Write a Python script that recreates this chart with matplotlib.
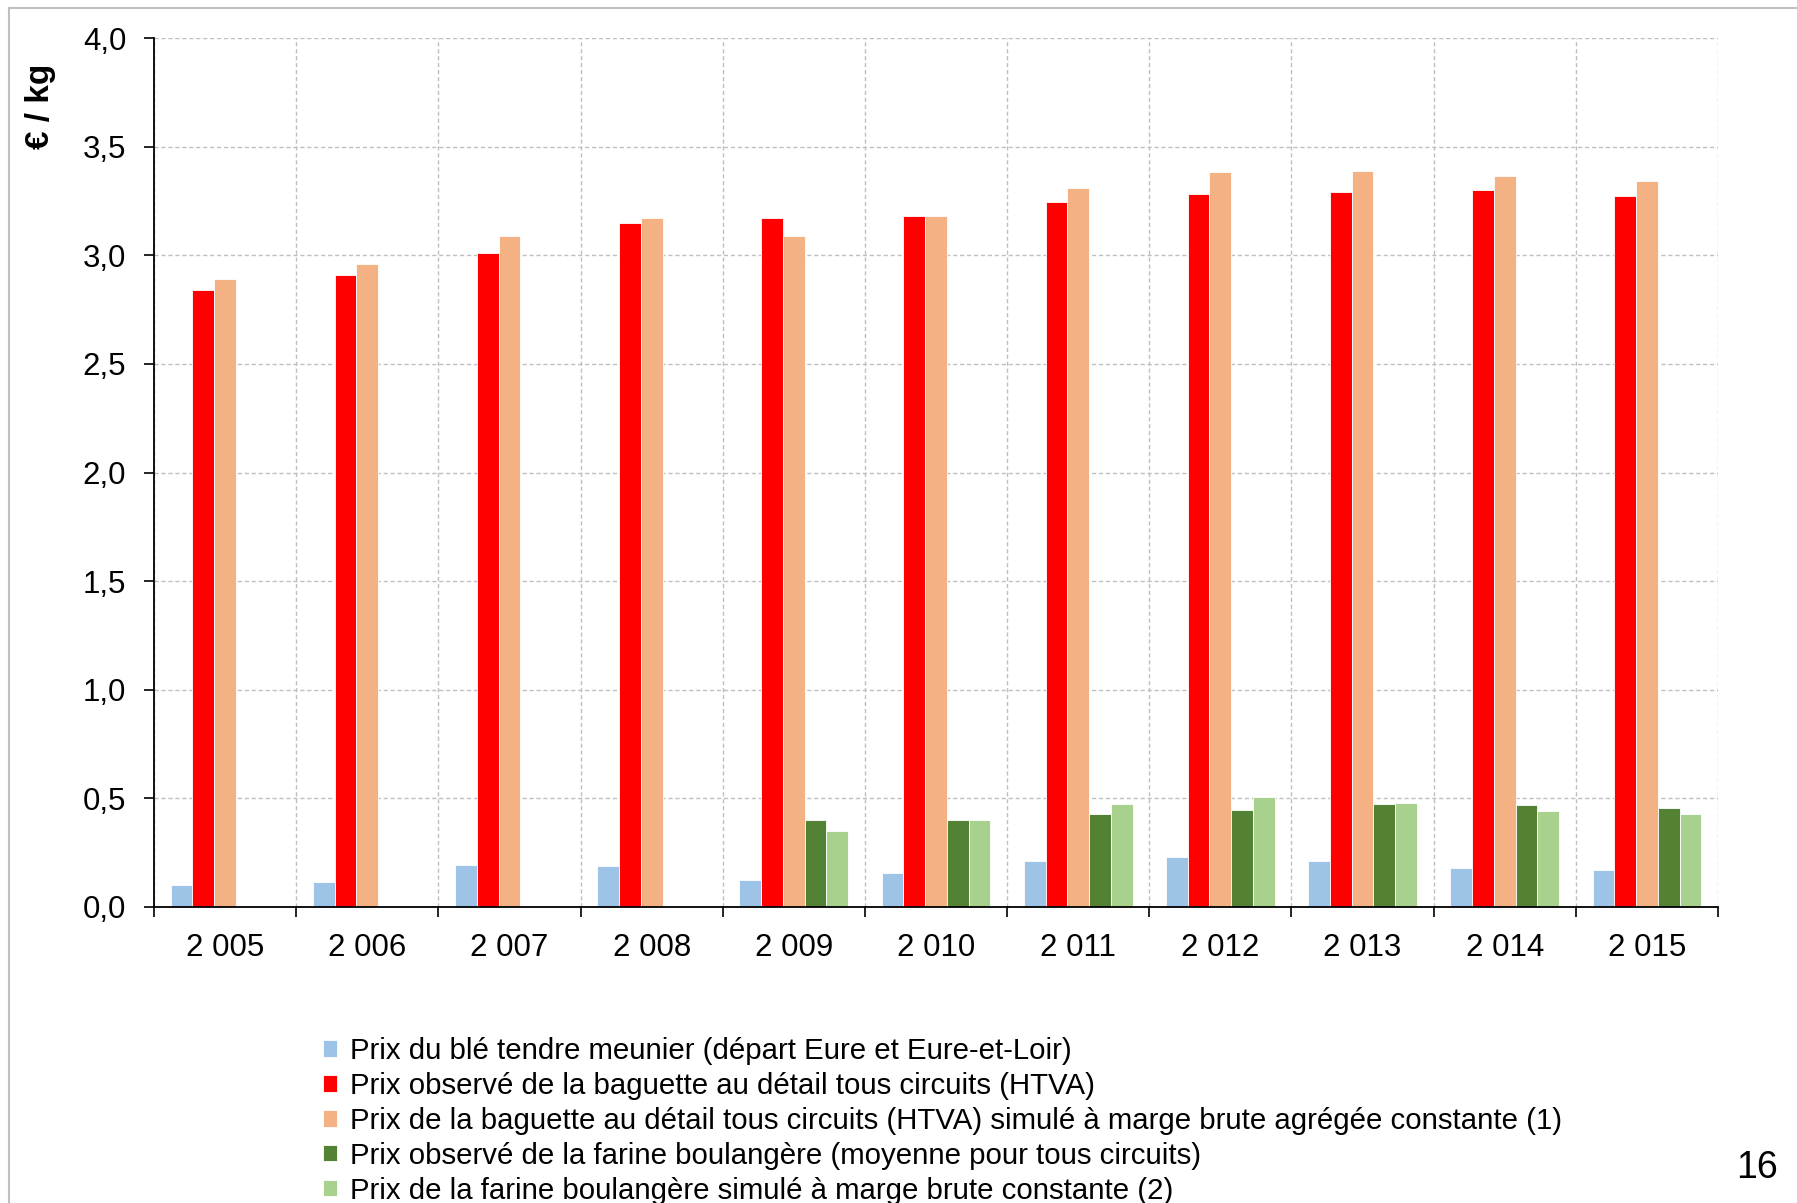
import matplotlib
matplotlib.use("Agg")
import matplotlib.pyplot as plt
import numpy as np
from matplotlib.lines import Line2D
from matplotlib.ticker import FixedLocator, FuncFormatter

plt.rcParams['font.family'] = ['Liberation Sans', 'DejaVu Sans']

years = ["2 005", "2 006", "2 007", "2 008", "2 009", "2 010",
         "2 011", "2 012", "2 013", "2 014", "2 015"]

ble = [0.10, 0.115, 0.195, 0.19, 0.125, 0.155, 0.21, 0.23, 0.21, 0.18, 0.17]
baguette_obs = [2.84, 2.91, 3.01, 3.15, 3.17, 3.18, 3.245, 3.28, 3.29, 3.30, 3.275]
baguette_sim = [2.89, 2.96, 3.09, 3.17, 3.09, 3.18, 3.31, 3.385, 3.39, 3.365, 3.34]
farine_obs = [np.nan, np.nan, np.nan, np.nan, 0.40, 0.40, 0.43, 0.445, 0.475, 0.47, 0.455]
farine_sim = [np.nan, np.nan, np.nan, np.nan, 0.35, 0.40, 0.475, 0.505, 0.48, 0.44, 0.43]

labels = [
    "Prix du blé tendre meunier (départ Eure et Eure-et-Loir)",
    "Prix observé de la baguette au détail tous circuits (HTVA)",
    "Prix de la baguette au détail tous circuits (HTVA) simulé à marge brute agrégée constante (1)",
    "Prix observé de la farine boulangère (moyenne pour tous circuits)",
    "Prix de la farine boulangère simulé à marge brute constante (2)",
]
colors = ["#9DC3E6", "#FF0000", "#F4B183", "#548235", "#A9D18E"]
series = [ble, baguette_obs, baguette_sim, farine_obs, farine_sim]

W, H = 1797, 1203
fig = plt.figure(figsize=(W / 100, H / 100), dpi=100)
ax = fig.add_axes([154 / W, 1 - 907 / H, (1718 - 154) / W, (907 - 38) / H])

x = np.arange(len(years))
w = 0.153
handles = []
for i, (vals, c, lab) in enumerate(zip(series, colors, labels)):
    b = ax.bar(x + (i - 2) * w, vals, width=w, color=c, edgecolor='white',
               linewidth=0.6, label=lab, zorder=3)
    handles.append(b)

ax.set_xlim(-0.5, len(years) - 0.5)
ax.set_ylim(0, 4.0)
ax.set_yticks(np.arange(0, 4.01, 0.5))
ax.yaxis.set_major_formatter(FuncFormatter(lambda v, p: f"{v:.1f}".replace('.', ',')))
ax.set_xticks(x)
ax.set_xticklabels(years)
ax.xaxis.set_minor_locator(FixedLocator(np.arange(-0.5, len(years), 1.0)))

ax.tick_params(axis='x', which='major', length=0, pad=19, labelsize=22.5)
ax.tick_params(axis='x', which='minor', length=7, width=1.2, direction='out', color='black')
ax.tick_params(axis='y', which='major', length=7, width=1.2, pad=13, labelsize=22.5)

ax.grid(axis='y', which='major', linestyle=(0, (3, 2)), color='#BFBFBF', linewidth=1.0, zorder=0)
ax.grid(axis='x', which='minor', linestyle=(0, (3, 2)), color='#BFBFBF', linewidth=1.0, zorder=0)
ax.grid(axis='x', which='major', visible=False)

for s in ['top', 'right']:
    ax.spines[s].set_visible(False)
for s in ['left', 'bottom']:
    ax.spines[s].set_linewidth(1.3)
    ax.spines[s].set_color('black')
    ax.spines[s].set_zorder(4)

fig.text(41 / W, 1 - 106 / H, "€ / kg", rotation=90, ha='center', va='center',
         fontsize=24, fontweight='bold')

leg = fig.legend(handles=handles, labels=labels, loc='upper left',
                 bbox_to_anchor=(323 / W, 1 - 1037 / H), frameon=False,
                 fontsize=21.2, handlelength=0.48, handleheight=0.48,
                 handletextpad=0.42, labelspacing=0.235, borderpad=0, borderaxespad=0)

fig.text(1757 / W, 1 - 1168 / H, "16", ha='center', va='center', fontsize=27)

# outer frame
fig.add_artist(Line2D([9 / W, 1.0], [1 - 8 / H, 1 - 8 / H], color='#BFBFBF', linewidth=1.5))
fig.add_artist(Line2D([9 / W, 9 / W], [1 - 8 / H, 0.0], color='#BFBFBF', linewidth=1.5))

fig.savefig("out.png", dpi=100)
